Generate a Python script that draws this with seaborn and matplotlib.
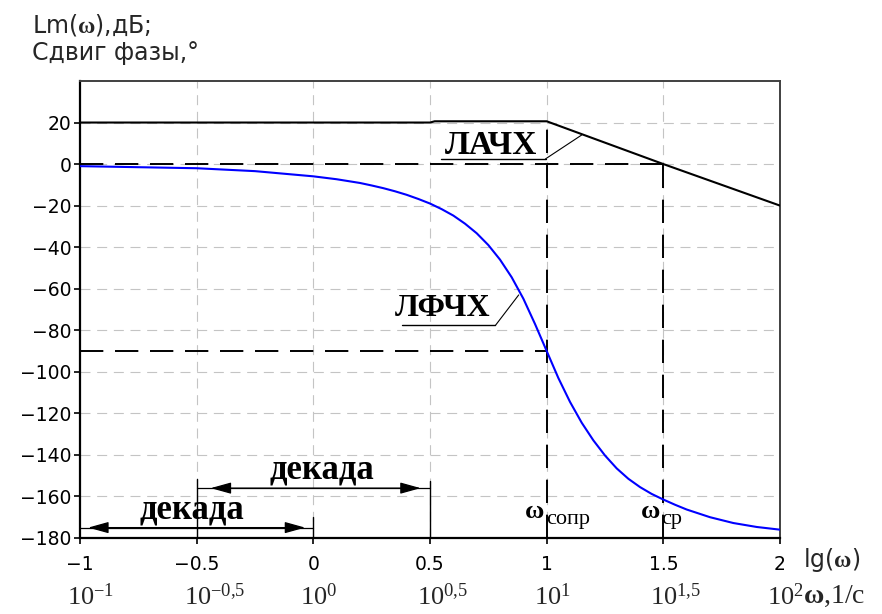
import matplotlib
matplotlib.use("Agg")
import matplotlib.pyplot as plt
import seaborn as sns

# ЛАЧХ (асимптотическая), дБ
lg_w_amp = [-1.0, 0.5, 0.52, 1.0, 1.5, 2.0]
lm_db = [20.0, 20.0, 20.6, 20.6, 0.0, -20.0]

# ЛФЧХ, градусы
lg_w_phase = [-1.0, -0.75, -0.5, -0.25, 0.0, 0.1, 0.2, 0.25, 0.3, 0.35, 0.4, 0.45, 0.5,
              0.55, 0.6, 0.65, 0.7, 0.75, 0.8, 0.85, 0.9, 0.95, 1.0, 1.05, 1.1,
              1.15, 1.2, 1.25, 1.3, 1.35, 1.4, 1.45, 1.5, 1.55, 1.6, 1.7, 1.8, 1.9, 2.0]
phase_deg = [-1.0, -1.5, -2.0, -3.4, -5.9, -7.3, -9.1, -10.3, -11.6, -13.1, -14.8, -16.8, -19.0,
             -21.7, -24.8, -28.7, -33.3, -39.0, -46.0, -54.5, -64.8, -77.0, -90.0, -103.0, -114.5,
             -124.5, -133.0, -140.3, -146.5, -151.5, -155.5, -158.8, -161.5, -164.0, -166.3, -170.0,
             -172.8, -174.7, -176.0]

x_ticks = [-1, -0.5, 0, 0.5, 1, 1.5, 2]
x_tick_labels = ['\u22121', '\u22120.5', '0', '0.5', '1', '1.5', '2']
w_labels = [r'$10^{-1}$', r'$10^{-0{,}5}$', r'$10^{0}$', r'$10^{0{,}5}$',
            r'$10^{1}$', r'$10^{1{,}5}$', r'$10^{2}$']
y_ticks = [-180, -160, -140, -120, -100, -80, -60, -40, -20, 0, 20]

sns.set_style("white")
plt.rcParams['font.family'] = ['DejaVu Sans']
plt.rcParams['mathtext.fontset'] = 'custom'
plt.rcParams['mathtext.rm'] = 'Liberation Serif'
plt.rcParams['mathtext.it'] = 'Liberation Serif:italic'
plt.rcParams['mathtext.bf'] = 'Liberation Serif:bold'

fig = plt.figure(figsize=(8.82, 6.14), dpi=100)
ax = fig.add_axes([0.0907, 0.1238, 0.7937, 0.7443])

# сетка
for xv in x_ticks[1:-1]:
    ax.axvline(xv, color='#c4c4c4', lw=0.8, dashes=(9, 6), zorder=0)
for yv in y_ticks[1:]:
    ax.axhline(yv, color='#c4c4c4', lw=0.8, dashes=(9, 6), zorder=0)

# вспомогательные штриховые линии
dash = (12, 6)
ax.plot([-1, 1.5], [0, 0], color='black', lw=1.4, dashes=dash, zorder=2)
ax.plot([-1, 1], [-90, -90], color='black', lw=1.4, dashes=dash, zorder=2)
ax.plot([1, 1], [-180, 20], color='black', lw=1.4, dashes=dash, zorder=2)
ax.plot([1.5, 1.5], [-180, 0], color='black', lw=1.4, dashes=dash, zorder=2)

sns.lineplot(x=lg_w_amp, y=lm_db, color='black', lw=1.5, ax=ax, zorder=3)
sns.lineplot(x=lg_w_phase, y=phase_deg, color='#0000ff', lw=1.5, ax=ax, zorder=3)

ax.set_xlim(-1, 2)
ax.set_ylim(-180, 40)
ax.set_xticks(x_ticks)
ax.set_xticklabels(x_tick_labels, fontsize=13.5)
ax.set_yticks(y_ticks)
ax.set_yticklabels(['\u2212' + str(-v) if v < 0 else str(v) for v in y_ticks], fontsize=13.5)
ax.tick_params(axis='x', direction='out', length=4, width=1.2, pad=8, colors='black')
ax.tick_params(axis='y', direction='out', length=4, width=1.2, pad=2, colors='black')
ax.tick_params(bottom=True, left=True)
ax.set_xlabel('')
ax.set_ylabel('')
for side in ['left', 'bottom']:
    ax.spines[side].set_color('black')
    ax.spines[side].set_linewidth(1.6)
for side in ['top', 'right']:
    ax.spines[side].set_color('#404040')
    ax.spines[side].set_linewidth(1.4)

# подписи кривых
serif_b = dict(family='Liberation Serif', weight='bold', color='black')
ax.text(0.76, 9.0, 'ЛАЧХ', fontsize=24, ha='center', va='center', **serif_b)
ax.plot([0.545, 0.995], [2.5, 2.5], color='black', lw=1.0)
ax.plot([0.995, 1.15], [2.5, 14.0], color='black', lw=0.8)
ax.text(0.555, -69.5, 'ЛФЧХ', fontsize=23, ha='center', va='center', **serif_b)
ax.plot([0.38, 0.78], [-77.7, -77.7], color='black', lw=1.0)
ax.plot([0.78, 0.88], [-77.7, -63.0], color='black', lw=0.8)

# декады
ax.plot([-1, 0], [-175, -175], color='black', lw=0.9)
ax.plot([0, 0], [-180, -170], color='black', lw=1.0)
ax.annotate('', xy=(-0.035, -175), xytext=(-0.965, -175),
            arrowprops=dict(arrowstyle='<|-|>,head_length=0.9,head_width=0.25',
                            color='black', lw=0.9, shrinkA=0, shrinkB=0, mutation_scale=14))
ax.text(-0.52, -166.5, 'декада', fontsize=25, ha='center', va='center', **serif_b)

ax.plot([-0.5, 0.5], [-156, -156], color='black', lw=0.9)
ax.plot([-0.5, -0.5], [-180, -151.5], color='black', lw=1.0)
ax.plot([0.5, 0.5], [-180, -152.5], color='black', lw=1.0)
ax.annotate('', xy=(0.46, -156), xytext=(-0.44, -156),
            arrowprops=dict(arrowstyle='<|-|>,head_length=0.9,head_width=0.25',
                            color='black', lw=0.9, shrinkA=0, shrinkB=0, mutation_scale=14))
ax.text(0.035, -147.5, 'декада', fontsize=25, ha='center', va='center', **serif_b)

# частоты
ax.text(0.949, -167.2, 'ω', fontsize=19, ha='center', va='center', **serif_b)
ax.text(0.996, -171.3, 'сопр', fontsize=16, ha='left', va='center',
        family='Liberation Serif', color='black')
ax.text(1.444, -167.2, 'ω', fontsize=19, ha='center', va='center', **serif_b)
ax.text(1.491, -171.3, 'ср', fontsize=16, ha='left', va='center',
        family='Liberation Serif', color='black')

# вторая строка подписей оси X
for xv, lab in zip(x_ticks, w_labels):
    ax.text(xv - 0.056, -215.2, lab, fontsize=19, ha='left', va='bottom', clip_on=False)
ax.text(2.1, -214.0, r'$\mathbf{ω}$,1/с', fontsize=20, ha='left', va='bottom',
        family='Liberation Serif', clip_on=False)
ax.text(2.1, -190.5, r'lg($\mathbf{ω}$)', fontsize=17, ha='left', va='center', clip_on=False)

# заголовок оси Y
fig.text(32 / 882, 1 - 25 / 614, r'Lm($\mathbf{ω}$),дБ;', fontsize=17, ha='left', va='center')
fig.text(32 / 882, 1 - 53 / 614, 'Сдвиг фазы,°', fontsize=17, ha='left', va='center')

fig.savefig('out.png', dpi=100)
